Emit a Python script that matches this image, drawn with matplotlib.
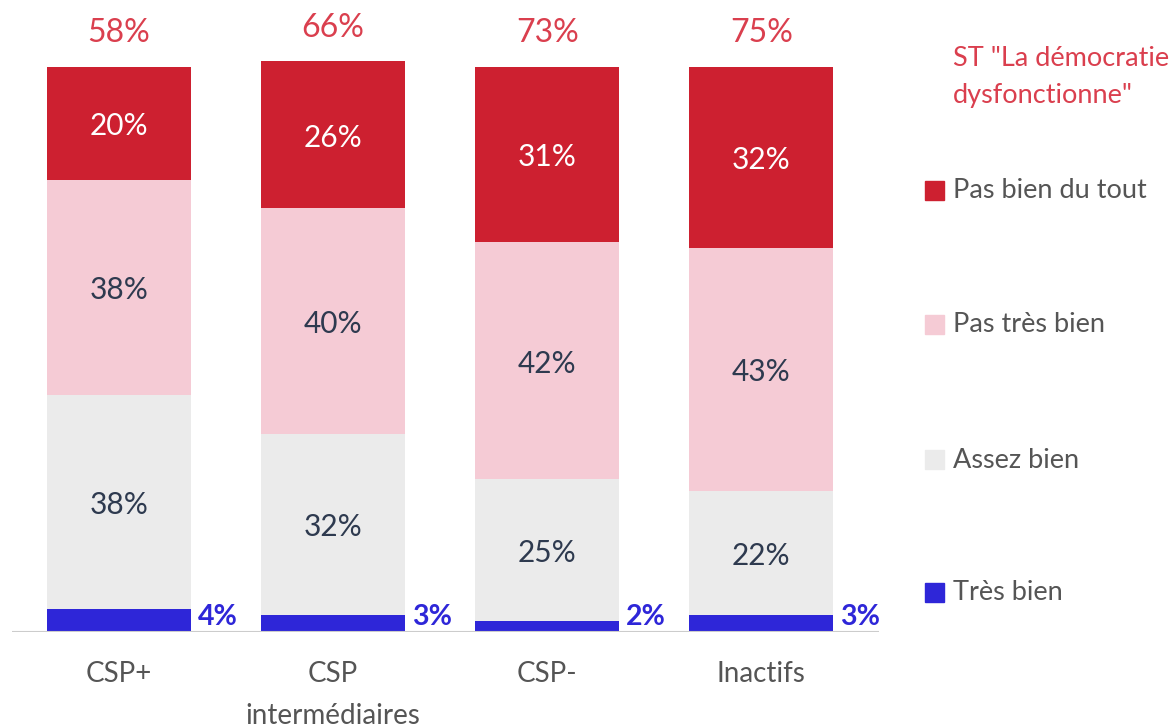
#!/usr/bin/env python3
"""Stacked bars: démocratie par CSP, legend drawn on the right."""
import matplotlib
matplotlib.use('Agg')
import matplotlib.pyplot as plt
import matplotlib.patches as mpatches
import numpy as np

plt.rcParams['font.family'] = ['Lato', 'DejaVu Sans']

categories = ['CSP+', 'CSP\nintermédiaires', 'CSP-', 'Inactifs']
tres_bien = [4, 3, 2, 3]
assez_bien = [38, 32, 25, 22]
pas_tres_bien = [38, 40, 42, 43]
pas_bien = [20, 26, 31, 32]
st_totals = [58, 66, 73, 75]

series_names = ['Pas bien du tout', 'Pas très bien', 'Assez bien', 'Très bien']

c_red = '#CD2030'
c_pink = '#F5CBD5'
c_gray = '#EBEBEB'
c_blue = '#2E26D8'
c_dark = '#2E3A4F'
c_total = '#DA3F4E'

W, H = 1173, 728
fig = plt.figure(figsize=(W / 100, H / 100), dpi=100)
ax = fig.add_axes([12 / W, 96 / H, 867 / W, 621.5 / H])
ax.set_xlim(-0.5, 3.55)
ax.set_ylim(0, 110)

x = np.arange(len(categories))
w = 0.673

b1 = np.array(tres_bien)
b2 = b1 + np.array(assez_bien)
b3 = b2 + np.array(pas_tres_bien)

ax.bar(x, tres_bien, w, color=c_blue, zorder=2)
ax.bar(x, assez_bien, w, bottom=b1, color=c_gray, zorder=2)
ax.bar(x, pas_tres_bien, w, bottom=b2, color=c_pink, zorder=2)
ax.bar(x, pas_bien, w, bottom=b3, color=c_red, zorder=2)

dy = -0.5  # nudge inner labels a touch lower
for i in range(len(categories)):
    ax.text(x[i], b1[i] + assez_bien[i] / 2 + dy, f'{assez_bien[i]}%', ha='center', va='center',
            fontsize=21.5, color=c_dark)
    ax.text(x[i], b2[i] + pas_tres_bien[i] / 2 + dy, f'{pas_tres_bien[i]}%', ha='center',
            va='center', fontsize=21.5, color=c_dark)
    ax.text(x[i], b3[i] + pas_bien[i] / 2 + dy, f'{pas_bien[i]}%', ha='center', va='center',
            fontsize=21.5, color='white')
    ax.text(x[i] + w / 2 + 0.03, 0.3, f'{tres_bien[i]}%', ha='left', va='bottom',
            fontsize=20.5, color=c_blue, fontweight='bold')
    ax.text(x[i], b3[i] + pas_bien[i] + 3.3, f'{st_totals[i]}%', ha='center', va='bottom',
            fontsize=23, color=c_total)

ax.axhline(0, color='#CCCCCC', linewidth=1.5, zorder=3)
ax.set_xticks(x)
ax.set_xticklabels(categories, fontsize=20, color='#555555', linespacing=1.75, va='top')
ax.tick_params(axis='x', length=0, pad=21)
ax.set_yticks([])
for s in ax.spines.values():
    s.set_visible(False)

# right-hand legend
fig.text(953 / W, 1 - 77 / H, 'ST "La démocratie\ndysfonctionne"', ha='left', va='center',
         fontsize=19.5, color=c_total, linespacing=1.55)
leg_y = [191, 325, 460, 593]
leg_colors = [c_red, c_pink, c_gray, c_blue]
for name, yy, col in zip(series_names, leg_y, leg_colors):
    fig.patches.append(mpatches.Rectangle((925 / W, 1 - (yy + 9) / H), 19 / W, 19 / H,
                                          transform=fig.transFigure, color=col))
    fig.text(953 / W, 1 - yy / H, name, ha='left', va='center', fontsize=19.5, color='#555555')

fig.savefig('out.png', dpi=100)
